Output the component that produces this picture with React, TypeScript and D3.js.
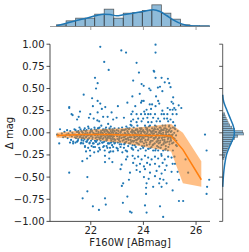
import React from "react";
import * as d3 from "d3";

const W = 249;
const H = 252;
const plot = { left: 50, right: 210, top: 44.2, bottom: 221.4 };
const topBase = 26.5;
const sideBase = 222.7;

const xTicks = [22, 24, 26];
const yTicks = [1, 0.75, 0.5, 0.25, 0, -0.25, -0.5, -0.75, -1];

// scattered stars
const sparsePts: [number, number][] = [
  [20.72, -0.02], [20.77, -0.03], [20.83, 0.04], [20.9, -0.01], [20.95, -0.05], [21.0, 0.01], [21.03, -0.04], [20.8, -0.12],
  [21.08, -0.02], [21.1, 0.03], [21.12, -0.06], [21.15, -0.01], [21.18, 0.29], [21.18, 0.28], [21.18, -0.45], [21.2, -0.03],
  [21.22, 0.02], [21.25, -0.08], [21.27, 0.21], [21.28, -0.04], [21.3, 0.0], [21.31, 0.2], [21.33, -0.1], [21.35, -0.02],
  [21.38, 0.04], [21.4, -0.05], [21.42, -0.11], [21.45, -0.03], [21.48, 0.15], [21.5, 0.01], [21.52, -0.07], [21.54, 0.18],
  [21.55, -0.02], [21.57, 0.06], [21.59, 0.24], [21.6, -0.04], [21.62, -0.12], [21.64, 0.02], [21.66, -0.06], [21.68, -0.32],
  [21.69, -0.74], [21.7, 0.0], [21.72, -0.09], [21.73, 0.43], [21.75, -0.03], [21.77, 0.05], [21.78, -0.15], [21.8, -0.01],
  [21.82, -0.05], [21.84, 0.03], [21.86, -0.29], [21.87, -0.5], [21.88, -0.08], [21.9, 0.07], [21.91, -0.02], [21.93, 0.17],
  [21.95, -0.12], [21.97, 0.0], [21.98, -0.26], [21.98, 0.21], [22.0, -0.04], [22.02, 0.04], [22.05, 0.39], [22.06, -0.07],
  [22.08, 0.3], [22.1, -0.16], [22.11, 0.16], [22.12, -0.01], [22.14, 0.06], [22.16, 0.62], [22.17, -0.03], [22.19, -0.1],
  [22.2, 0.5], [22.21, 0.02], [22.23, -0.05], [22.25, 0.14], [22.26, 0.56], [22.26, 0.23], [22.27, -0.13], [22.28, -0.01],
  [22.3, 0.05], [22.31, -0.87], [22.32, 0.13], [22.33, -0.07], [22.35, -0.19], [22.36, 0.33], [22.37, 0.0], [22.38, -0.04],
  [22.4, 0.08], [22.42, 0.27], [22.43, -0.11], [22.44, -0.02], [22.46, 0.03], [22.47, 0.18], [22.48, -0.06], [22.5, -0.15],
  [22.51, 0.8], [22.52, 0.01], [22.54, -0.26], [22.54, -0.33], [22.54, -0.74], [22.55, 0.29], [22.55, -0.04], [22.57, -0.81],
  [22.58, 0.06], [22.59, -0.09], [22.6, -0.02], [22.62, 0.02], [22.63, -0.17], [22.64, 0.18], [22.65, -0.06], [22.66, 0.1],
  [22.68, 0.71], [22.68, -0.01], [22.7, -0.29], [22.71, -0.12], [22.72, 0.04], [22.73, -0.03], [22.75, -0.21], [22.76, 0.07],
  [22.77, -0.07], [22.79, 0.23], [22.8, 0.0], [22.81, -0.14], [22.82, -0.33], [22.83, -0.05], [22.84, 0.03], [22.85, 0.15],
  [22.86, -0.1], [22.87, -0.02], [22.9, 0.05], [22.92, -0.08], [22.95, -0.01], [22.98, 0.17], [23.0, -0.04], [23.02, -0.18],
  [23.03, 0.3], [23.05, 0.02], [23.08, -0.06], [23.1, -0.13], [23.12, 0.0], [23.13, -0.41], [23.15, -0.03], [23.17, -0.36],
  [23.18, -0.6], [23.19, 0.06], [23.21, -0.09], [23.22, -0.79], [23.23, -0.57], [23.23, -0.02], [23.26, 0.17], [23.27, -0.05],
  [23.28, 0.03], [23.3, -0.11], [23.31, -0.01], [23.33, -0.2], [23.34, 0.905], [23.34, -0.3], [23.35, 0.07], [23.36, -0.07],
  [23.38, -0.03], [23.39, 0.34], [23.39, -0.27], [23.39, -0.72], [23.4, 0.01], [23.42, -0.15], [23.43, -0.08], [23.45, -0.53],
  [23.45, 0.04], [23.47, -0.02], [23.49, -0.45], [23.49, -0.89], [23.5, -0.12], [23.51, 0.09], [23.52, -0.05], [23.53, 0.13],
  [23.54, 0.21], [23.55, -0.9], [23.55, 0.08], [23.56, -0.18], [23.57, 0.0], [23.58, 0.41], [23.59, 0.24], [23.59, -0.09],
  [23.61, 0.59], [23.61, 0.15], [23.61, -0.03], [23.62, -0.1], [23.64, 0.02], [23.65, -0.06], [23.67, -0.14], [23.69, 0.3],
  [23.7, -0.01], [23.72, 0.04], [23.74, 0.79], [23.74, 0.21], [23.74, 0.12], [23.75, -0.08], [23.76, -0.04], [23.77, 0.08],
  [23.78, -0.12], [23.8, 0.16], [23.8, 0.0], [23.82, -0.06], [23.83, 0.68], [23.84, -0.02], [23.86, 0.44], [23.87, 0.05],
  [23.88, -0.1], [23.9, -0.04], [23.91, 0.34], [23.91, 0.21], [23.92, 0.01], [23.93, 0.55], [23.93, 0.13], [23.94, 0.36],
  [23.94, -0.07], [23.95, -0.15], [23.97, 0.02], [23.99, 0.16], [24.0, -0.05], [24.01, 0.53], [24.01, 0.36], [24.02, -0.12],
  [24.03, 0.24], [24.04, 0.0], [24.06, 0.21], [24.06, 0.08], [24.06, -0.82], [24.07, -0.09], [24.08, -0.02], [24.1, -0.62],
  [24.1, -0.69], [24.11, 0.04], [24.12, 0.26], [24.12, -0.57], [24.12, -0.9], [24.13, -0.14], [24.14, -0.04], [24.15, 0.17],
  [24.16, 0.01], [24.18, 0.12], [24.18, 0.21], [24.19, -0.07], [24.2, -0.18], [24.21, -0.02], [24.22, 0.5], [24.23, 0.03],
  [24.24, 0.32], [24.25, 0.08], [24.26, -0.11], [24.27, 0.48], [24.27, 0.21], [24.28, -0.05], [24.29, 0.27], [24.3, 0.0],
  [24.31, 0.12], [24.31, -0.16], [24.33, 0.32], [24.34, -0.03], [24.35, -0.09], [24.36, 0.02], [24.37, 0.17], [24.37, -0.61],
  [24.38, -0.13], [24.39, 0.7], [24.4, -0.01], [24.41, 0.69], [24.42, 0.05], [24.43, -0.06], [24.44, 0.21], [24.44, 0.08],
  [24.45, -0.2], [24.46, 0.995], [24.46, 0.905], [24.46, 0.62], [24.46, 0.3], [24.47, -0.04], [24.48, 0.41], [24.49, 0.01],
  [24.5, 0.13], [24.5, -0.1], [24.51, -0.02], [24.52, -0.15], [24.53, 0.04], [24.54, -0.07], [24.55, 0.51], [24.56, 0.36],
  [24.56, 0.16], [24.57, -0.03], [24.58, -0.12], [24.59, 0.0], [24.6, 0.33], [24.6, -0.57], [24.61, -0.05], [24.62, 0.06],
  [24.63, 0.52], [24.63, 0.13], [24.63, -0.83], [24.64, -0.09], [24.65, -0.17], [24.66, 0.02], [24.67, -0.01], [24.68, -0.24],
  [24.69, 0.62], [24.69, 0.21], [24.69, -0.61], [24.7, -0.06], [24.72, 0.47], [24.72, 0.25], [24.73, 0.08], [24.74, -0.02],
  [24.75, -0.95], [24.76, -0.13], [24.77, 0.03], [24.78, 0.21], [24.79, 0.16], [24.8, -0.08], [24.81, 0.57], [24.82, -0.03],
  [24.83, -0.19], [24.84, 0.05], [24.85, -0.11], [24.86, 0.0], [24.88, -0.57], [24.88, -0.04], [24.9, 0.16], [24.91, 0.21],
  [24.92, 0.28], [24.93, 0.61], [24.93, -0.07], [24.94, 0.13], [24.95, -0.16], [24.96, 0.02], [24.97, -0.02], [24.98, 0.56],
  [24.98, 0.08], [24.99, -0.1], [25.01, 0.26], [25.02, -0.05], [25.03, 0.515], [25.03, 0.15], [25.04, 0.01], [25.07, 0.35],
  [25.07, -0.03], [25.09, -0.12], [25.11, 0.26], [25.11, 0.21], [25.11, -0.65], [25.12, -0.2], [25.13, 0.4], [25.13, 0.33],
  [25.13, 0.12], [25.15, -0.06], [25.17, 0.28], [25.18, -0.27], [25.2, 0.08], [25.2, -0.35], [25.22, 0.26], [25.24, -0.14],
  [25.26, 0.21], [25.3, -0.44], [25.34, 0.31], [25.35, -0.53], [25.35, -0.77], [25.44, 0.28], [25.51, -0.77], [25.6, -0.3],
  [25.7, -0.45], [26.34, -0.02], [26.4, -0.2], [26.4, -0.69], [26.42, -0.61], [26.5, -0.53], [22.36, 0.97], [23.16, 0.93],
  [22.26, 0.36], [22.08, -0.83], [21.87, -0.66],
];

// lower tail rows (faint sources scatter downward)
const lowerPts: [number, number][] = [
  [21.21, -0.11], [21.33, -0.12], [21.48, -0.1], [21.64, -0.11], [21.71, -0.12], [21.83, -0.1], [21.96, -0.11], [22.08, -0.12],
  [22.21, -0.1], [22.33, -0.12], [22.46, -0.11], [22.65, -0.12], [22.77, -0.11], [22.9, -0.12], [23.03, -0.11], [23.16, -0.13],
  [23.29, -0.12], [21.78, -0.16], [21.9, -0.17], [22.03, -0.15], [22.16, -0.16], [22.32, -0.17], [22.47, -0.16], [22.6, -0.15],
  [22.73, -0.17], [22.85, -0.16], [22.98, -0.17], [23.13, -0.16], [23.26, -0.17], [21.82, -0.21], [21.97, -0.2], [22.13, -0.22],
  [22.28, -0.21], [22.53, -0.2], [22.7, -0.22], [22.85, -0.21], [23.03, -0.2], [23.2, -0.22], [23.38, -0.21],
  [23.55, -0.17], [23.61, -0.19], [23.71, -0.16], [23.8, -0.2], [23.89, -0.18], [23.99, -0.17], [24.09, -0.2], [24.18, -0.18],
  [24.27, -0.17], [24.37, -0.2], [24.47, -0.18], [24.56, -0.2], [24.65, -0.17], [24.75, -0.2], [24.85, -0.18], [24.93, -0.2],
  [23.59, -0.26], [23.67, -0.29], [23.8, -0.27], [23.93, -0.3], [24.06, -0.26], [24.18, -0.28], [24.31, -0.3], [24.44, -0.27],
  [24.56, -0.29], [24.69, -0.26], [24.81, -0.3], [24.94, -0.27], [25.07, -0.28], [23.61, -0.34], [23.74, -0.37], [23.87, -0.35],
  [24.02, -0.38], [24.14, -0.34], [24.25, -0.36], [24.44, -0.35], [24.6, -0.38], [24.73, -0.34], [24.88, -0.37], [25.11, -0.35],
  [23.74, -0.42], [23.87, -0.44], [24.06, -0.41], [24.25, -0.45], [24.5, -0.43], [24.69, -0.46], [24.82, -0.42], [25.07, -0.44],
  [24.02, -0.5], [24.2, -0.52], [24.44, -0.49], [24.63, -0.52], [24.76, -0.53],
];

// the crowded sequence near zero
const densePts: [number, number][] = [
  [21.4, -0.02], [21.42, 0.03], [21.44, -0.06], [21.47, 0.01], [21.49, -0.04], [21.51, -0.09], [21.53, 0.02], [21.56, -0.01],
  [21.58, -0.05], [21.61, 0.04], [21.63, -0.03], [21.65, -0.08], [21.67, 0.01], [21.69, -0.02], [21.71, -0.05], [21.74, 0.03],
  [21.76, -0.07], [21.79, -0.01], [21.81, 0.02], [21.83, -0.04], [21.85, -0.1], [21.87, 0.0], [21.89, -0.03], [21.92, 0.05],
  [21.94, -0.06], [21.96, -0.02], [21.99, 0.01], [22.01, -0.09], [22.03, -0.03], [22.05, 0.02], [22.07, -0.05], [22.09, 0.0],
  [22.11, -0.12], [22.13, -0.02], [22.15, 0.04], [22.18, -0.06], [22.2, -0.01], [22.22, 0.03], [22.24, -0.08], [22.26, -0.03],
  [22.29, 0.01], [22.31, -0.05], [22.33, 0.06], [22.35, -0.02], [22.37, -0.09], [22.39, 0.02], [22.41, -0.04], [22.43, 0.0],
  [22.45, -0.07], [22.47, 0.04], [22.49, -0.03], [22.51, -0.1], [22.53, 0.02], [22.56, -0.05], [22.58, -0.01], [22.6, 0.03],
  [22.61, -0.08], [22.63, -0.03], [22.65, 0.01], [22.67, -0.12], [22.69, -0.04], [22.71, 0.05], [22.73, -0.06], [22.74, -0.01],
  [22.76, 0.02], [22.78, -0.09], [22.8, -0.03], [22.82, 0.04], [22.84, -0.07], [22.86, 0.0], [22.88, -0.04], [22.91, 0.02],
  [22.93, -0.11], [22.96, -0.02], [22.99, 0.03], [23.01, -0.07], [23.04, -0.01], [23.06, 0.05], [23.09, -0.04], [23.11, -0.1],
  [23.14, 0.01], [23.16, -0.06], [23.19, -0.02], [23.22, 0.03], [23.25, -0.08], [23.27, -0.13], [23.29, 0.0], [23.31, -0.04],
  [23.33, 0.04], [23.35, -0.1], [23.37, -0.02], [23.39, 0.02], [23.41, -0.06], [23.43, -0.01], [23.45, -0.12], [23.47, 0.05],
  [23.49, -0.03], [23.51, -0.08], [23.53, 0.01], [23.55, -0.05], [23.57, 0.03], [23.59, -0.14], [23.61, -0.02], [23.63, 0.06],
  [23.65, -0.09], [23.67, 0.0], [23.69, -0.05], [23.71, 0.03], [23.73, -0.11], [23.75, -0.02], [23.77, 0.04], [23.79, -0.07],
  [23.81, 0.01], [23.83, -0.13], [23.85, -0.04], [23.87, 0.02], [23.89, -0.08], [23.91, -0.01], [23.93, 0.05], [23.95, -0.1],
  [23.97, -0.03], [23.99, 0.03], [24.01, -0.06], [24.03, -0.15], [24.05, 0.01], [24.07, -0.04], [24.09, 0.06], [24.11, -0.11],
  [24.13, -0.01], [24.15, 0.03], [24.17, -0.08], [24.19, -0.03], [24.21, 0.07], [24.23, -0.13], [24.25, -0.02], [24.27, 0.02],
  [24.29, -0.09], [24.31, -0.04], [24.33, 0.05], [24.35, -0.14], [24.37, -0.01], [24.39, 0.03], [24.41, -0.07], [24.43, -0.12],
  [24.45, 0.01], [24.47, -0.05], [24.49, 0.07], [24.51, -0.1], [24.53, -0.02], [24.55, 0.04], [24.57, -0.16], [24.59, -0.06],
  [24.61, 0.02], [24.63, -0.11], [24.65, 0.06], [24.67, -0.03], [24.69, -0.14], [24.71, 0.03], [24.73, -0.08], [24.75, 0.0],
  [24.77, -0.12], [24.79, 0.05], [24.81, -0.05], [24.83, 0.08], [24.85, -0.15], [24.87, -0.02], [24.89, 0.04], [24.91, -0.1],
  [24.93, 0.01], [24.95, -0.06], [24.97, 0.07], [24.99, -0.13], [25.01, -0.03], [25.03, 0.05], [25.05, -0.09], [25.07, 0.02],
  [25.1, -0.05], [25.12, 0.06], [25.14, -0.11], [25.17, 0.0], [25.19, -0.07], [25.21, 0.04], [25.24, -0.03], [25.27, -0.15],
  [25.3, 0.02], [21.55, 0.0], [21.72, -0.06], [21.9, -0.07], [22.0, 0.03], [22.16, -0.09], [22.27, 0.05], [22.38, -0.06],
  [22.46, -0.01], [22.55, 0.04], [22.59, -0.07], [22.64, -0.05], [22.7, 0.0], [22.77, -0.04], [22.83, 0.01], [22.89, -0.07],
  [22.97, 0.0], [23.07, -0.08], [23.17, 0.03], [23.23, -0.05], [23.32, -0.07], [23.4, 0.05], [23.46, -0.05], [23.54, -0.1],
  [23.6, 0.01], [23.66, -0.04], [23.72, -0.08], [23.78, 0.02], [23.84, -0.06], [23.9, 0.04], [23.96, -0.05], [24.02, 0.01],
  [24.08, -0.08], [24.14, 0.05], [24.2, -0.05], [24.26, -0.1], [24.32, 0.01], [24.38, -0.06], [24.44, 0.04], [24.5, -0.03],
  [24.56, -0.09], [24.62, 0.0], [24.68, 0.04], [24.74, -0.05], [24.8, -0.1], [24.86, 0.02], [24.92, -0.04], [24.98, 0.03],
  [25.04, -0.07], [25.11, -0.02], [25.18, 0.05], [25.25, -0.09],
];

// running median and spread
const bandMag = [20.7, 21.2, 21.7, 22.2, 22.7, 23.2, 23.7, 24.2, 24.7, 25.05, 25.5, 26.2];
const bandMed = [-0.03, -0.025, -0.02, -0.02, -0.02, -0.025, -0.025, -0.03, -0.03, -0.035, -0.19, -0.53];
const bandLo = [-0.055, -0.06, -0.07, -0.08, -0.1, -0.115, -0.14, -0.17, -0.19, -0.21, -0.57, -0.61];
const bandHi = [0.0, 0.015, 0.03, 0.04, 0.045, 0.05, 0.06, 0.07, 0.09, 0.1, 0.0, -0.32];

// top marginal histogram
const magBinStart = 20.7;
const magBinWidth = 0.362;
const magCounts = [5, 17, 25, 25, 37, 52, 25, 40, 42, 48, 65, 40, 22, 5, 2, 2];
const magKdeX = [20.7, 21.08, 21.46, 21.84, 22.22, 22.48, 22.73, 22.98, 23.23, 23.61, 23.99, 24.37, 24.63, 24.88, 25.13, 25.45, 25.77, 26.15, 26.53];
const magKdeY = [2, 10, 18, 25, 33, 37, 36, 32, 35, 40, 45, 50, 45, 33, 20, 8, 2, 1, 0.5];

// right marginal histogram
const dBinStart = -0.3;
const dBinWidth = 0.025;
const dCounts = [1.3, 2, 2.5, 3.5, 4.5, 5.5, 7, 8.5, 10, 12, 15, 21, 20, 12, 9, 7, 5.5, 4.5, 3.5, 2.5, 2];
const dKdeY = [0.43, 0.35, 0.26, 0.15, 0.08, 0.01, -0.05, -0.12, -0.24, -0.32, -0.42, -0.52, -0.61];
const dKdeX = [0, 1, 4, 8, 10.5, 11.7, 11, 8.3, 4, 2.5, 1.3, 0.5, 0];

const blue = "#1f77b4";
const orange = "#ff7f0e";
const font = "DejaVu Sans, sans-serif";

const fmt = (v: number) => d3.format(".2f")(v).replace("-", "\u2212");

export default function App() {
  const x = d3.scaleLinear().domain([20.45, 26.53]).range([plot.left, plot.right]);
  const y = d3.scaleLinear().domain([-1, 1]).range([plot.bottom, plot.top]);
  const hy = d3.scaleLinear().domain([0, 79.5]).range([topBase, 0]);
  const hx = d3.scaleLinear().domain([0, 26.3]).range([sideBase, 249]);

  const band = bandMag.map((m, i) => ({ m, med: bandMed[i], lo: bandLo[i], hi: bandHi[i] }));
  const area = d3.area<any>().x(d => x(d.m)).y0(d => y(d.lo)).y1(d => y(d.hi));
  const medLine = d3.line<any>().x(d => x(d.m)).y(d => y(d.med));

  const topKde = d3.line<number>().curve(d3.curveMonotoneX)
    .x((d, i) => x(magKdeX[i])).y(d => hy(d));
  const sideKde = d3.line<number>().curve(d3.curveMonotoneY)
    .x(d => hx(d)).y((d, i) => y(dKdeY[i]));

  const allPts = [...sparsePts, ...lowerPts, ...densePts];

  return (
    <svg width={W} height={H} style={{ position: "absolute", left: 0, top: 0 }} fontFamily={font}>
      <rect width={W} height={H} fill="#fff" />

      {/* top marginal */}
      {magCounts.map((c, i) => {
        const x0 = x(magBinStart + i * magBinWidth);
        const x1 = x(magBinStart + (i + 1) * magBinWidth);
        return (
          <rect key={i} x={x0} y={hy(c)} width={x1 - x0} height={topBase - hy(c)}
            fill={blue} fillOpacity={0.5} stroke="#333" strokeOpacity={0.75} strokeWidth={0.8} />
        );
      })}
      <path d={topKde(magKdeY) || ""} fill="none" stroke={blue} strokeWidth={1.5} />
      <line x1={plot.left} x2={plot.right} y1={topBase} y2={topBase} stroke="#888" strokeWidth={0.8} />
      {xTicks.map(t => (
        <line key={t} x1={x(t)} x2={x(t)} y1={topBase} y2={topBase + 3.5} stroke="#888" strokeWidth={0.8} />
      ))}

      {/* right marginal */}
      {dCounts.map((c, i) => {
        const y0 = y(dBinStart + i * dBinWidth);
        const y1 = y(dBinStart + (i + 1) * dBinWidth);
        return (
          <rect key={i} x={sideBase} y={y1} width={hx(c) - sideBase} height={y0 - y1}
            fill={blue} fillOpacity={0.5} stroke="#333" strokeOpacity={0.6} strokeWidth={0.6} />
        );
      })}
      <path d={sideKde(dKdeX) || ""} fill="none" stroke={blue} strokeWidth={1.5} />
      <line x1={sideBase} x2={sideBase} y1={plot.top} y2={plot.bottom} stroke="#333" strokeWidth={0.8} />
      {yTicks.map(t => (
        <line key={t} x1={sideBase - 3.5} x2={sideBase} y1={y(t)} y2={y(t)} stroke="#333" strokeWidth={0.8} />
      ))}

      {/* main scatter */}
      {allPts.map((p, i) => (
        <circle key={i} cx={x(p[0])} cy={y(p[1])} r={1.1} fill={blue} />
      ))}
      <path d={area(band) || ""} fill={orange} fillOpacity={0.5} stroke="none" />
      <path d={medLine(band) || ""} fill="none" stroke={orange} strokeWidth={1.5} />

      {/* axes */}
      <line x1={plot.left} x2={plot.left} y1={plot.top} y2={plot.bottom} stroke="#222" strokeWidth={0.8} />
      <line x1={plot.left} x2={plot.right} y1={plot.bottom} y2={plot.bottom} stroke="#222" strokeWidth={0.8} />
      {yTicks.map(t => (
        <g key={t}>
          <line x1={plot.left - 3.5} x2={plot.left} y1={y(t)} y2={y(t)} stroke="#222" strokeWidth={0.8} />
          <text x={plot.left - 5.5} y={y(t)} dy="0.35em" textAnchor="end" fontSize={10} fill="#222">{fmt(t)}</text>
        </g>
      ))}
      {xTicks.map(t => (
        <g key={t}>
          <line x1={x(t)} x2={x(t)} y1={plot.bottom} y2={plot.bottom + 3.5} stroke="#222" strokeWidth={0.8} />
          <text x={x(t)} y={233.5} textAnchor="middle" fontSize={10} fill="#222">{t}</text>
        </g>
      ))}
      <text x={130} y={245.5} textAnchor="middle" fontSize={10} fill="#222">F160W [ABmag]</text>
      <text transform="translate(13,133) rotate(-90)" textAnchor="middle" fontSize={10} fill="#222">Δ mag</text>
    </svg>
  );
}
